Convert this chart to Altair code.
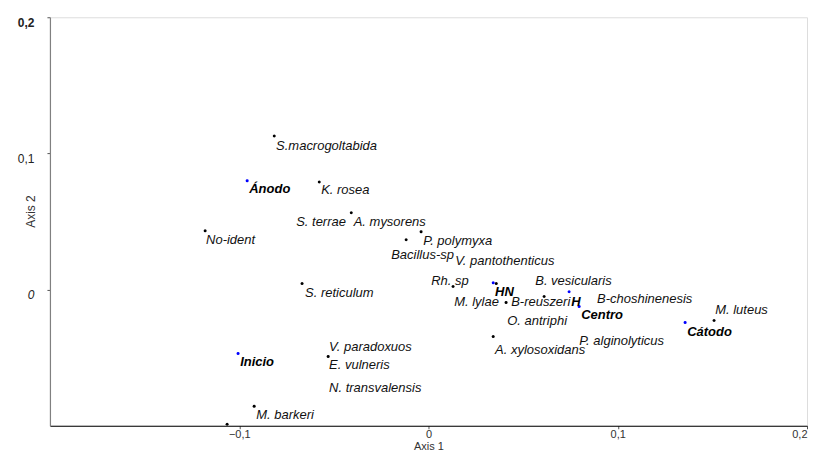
import altair as alt
import pandas as pd

# Ordination scores (Axis 1, Axis 2) of the plotted points
black_x = [-0.0815, -0.0577, -0.0408, -0.1180, -0.0118, -0.0039, 0.0130, 0.0358,
           0.0410, 0.0611, 0.0342, 0.1509, -0.0668, -0.0530, -0.0921, -0.1064]
black_y = [0.1128, 0.0791, 0.0564, 0.0432, 0.0366, 0.0425, 0.0022, 0.0044,
           -0.0095, -0.0051, -0.0344, -0.0227, 0.0044, -0.0491, -0.0857, -0.0989]

blue_x = [-0.0958, 0.0342, 0.0743, 0.0796, 0.1356, -0.1006]
blue_y = [0.0799, 0.0051, -0.0015, -0.0125, -0.0242, -0.0469]

# Labels and where they sit (Axis 1, Axis 2)
label_text = ["S.macrogoltabida", "Ánodo", "K. rosea", "S. terrae", "A. mysorens",
              "No-ident", "P. polymyxa", "Bacillus-sp", "V. pantothenticus", "Rh. sp",
              "HN", "B. vesicularis", "M. lylae", "B-reuszeri", "H",
              "B-choshinenesis", "Centro", "M. luteus", "Cátodo", "O. antriphi",
              "P. alginolyticus", "A. xylosoxidans", "S. reticulum", "V. paradoxuos",
              "E. vulneris", "N. transvalensis", "Inicio", "M. barkeri"]
label_x = [-0.0805, -0.0947, -0.0567, -0.0699, -0.0395,
           -0.1175, -0.0028, -0.0197, 0.0141, 0.0014,
           0.0352, 0.0564, 0.0136, 0.0437, 0.0754,
           0.0891, 0.0807, 0.1515, 0.1367, 0.0416,
           0.0796, 0.0352, -0.0652, -0.0525,
           -0.0525, -0.0525, -0.0995, -0.0910]
label_y = [0.1055, 0.0740, 0.0733, 0.0498, 0.0498,
           0.0366, 0.0359, 0.0256, 0.0212, 0.0066,
           -0.0015, 0.0066, -0.0088, -0.0088, -0.0088,
           -0.0066, -0.0190, -0.0147, -0.0315, -0.0234,
           -0.0374, -0.0447, -0.0022, -0.0425,
           -0.0557, -0.0725, -0.0535, -0.0923]
sample_labels = ["Ánodo", "HN", "H", "Centro", "Cátodo", "Inicio"]

x_ticks = [-0.1, 0.0, 0.1, 0.2]
y_ticks = [0.0, 0.1, 0.2]

points = pd.DataFrame({
    "x": black_x + blue_x,
    "y": black_y + blue_y,
    "kind": ["species"] * len(black_x) + ["sample"] * len(blue_x),
})
labels = pd.DataFrame({
    "text": label_text,
    "x": label_x,
    "y": label_y,
    "kind": ["sample" if t in sample_labels else "species" for t in label_text],
})

FONT = "Liberation Sans"
fmt = "datum.value == 0 ? '0' : replace(format(datum.value, '.1f'), '.', ',')"

xscale = alt.Scale(domain=[-0.2, 0.2], nice=False, zero=False)
yscale = alt.Scale(domain=[-0.1, 0.2], nice=False, zero=False)

xaxis = alt.Axis(values=x_ticks, labelExpr=fmt, grid=False, domainColor="#000000",
                 domainWidth=1.2, tickColor="#555555", tickSize=3, labelFontSize=11,
                 labelFont=FONT, labelColor="#333333", labelPadding=0,
                 labelBaseline="top", title="Axis 1", titleFont=FONT,
                 titleFontSize=11, titleFontWeight="normal", titleColor="#333333",
                 titleY=20.5, titleBaseline="middle")
yaxis = alt.Axis(values=y_ticks, labelExpr=fmt, grid=False, domainColor="#808080",
                 domainWidth=1.2, tickColor="#555555", tickSize=3, labelFontSize=12,
                 labelFont=FONT, labelColor="#222222", labelPadding=13,
                 labelBaseline="top",
                 labelFontWeight={"condition": {"test": "datum.value == 0.2", "value": "bold"}, "value": "normal"},
                 labelFontStyle={"condition": {"test": "datum.value == 0", "value": "italic"}, "value": "normal"},
                 title="Axis 2", titleFont=FONT, titleFontSize=12,
                 titleFontWeight="normal", titleColor="#333333", titleAngle=-90,
                 titleX=-19, titleY=194, titleAlign="center", titleBaseline="middle")

color = alt.Color("kind:N", scale=alt.Scale(domain=["species", "sample"],
                                             range=["#000000", "#0000ff"]), legend=None)

dots = alt.Chart(points).mark_circle(size=9, opacity=1, clip=False).encode(
    x=alt.X("x:Q", scale=xscale, axis=xaxis),
    y=alt.Y("y:Q", scale=yscale, axis=yaxis),
    color=color,
)

species_text = alt.Chart(labels).transform_filter(alt.datum.kind == "species").mark_text(
    align="left", baseline="middle", font=FONT, fontSize=13, fontStyle="italic",
    color="#111111"
).encode(x=alt.X("x:Q", scale=xscale), y=alt.Y("y:Q", scale=yscale), text="text:N")

sample_text = alt.Chart(labels).transform_filter(alt.datum.kind == "sample").mark_text(
    align="left", baseline="middle", font=FONT, fontSize=13, fontStyle="italic",
    fontWeight="bold", color="#000000"
).encode(x=alt.X("x:Q", scale=xscale), y=alt.Y("y:Q", scale=yscale), text="text:N")

chart = alt.layer(dots, species_text, sample_text).properties(
    width=758, height=409,
    autosize=alt.AutoSizeParams(type="none"),
    padding={"left": 42, "top": 9, "right": 10, "bottom": 29},
).configure_view(stroke=None).configure(background="white")

chart.save("out.html", embed_options={"renderer": "svg", "actions": False})
